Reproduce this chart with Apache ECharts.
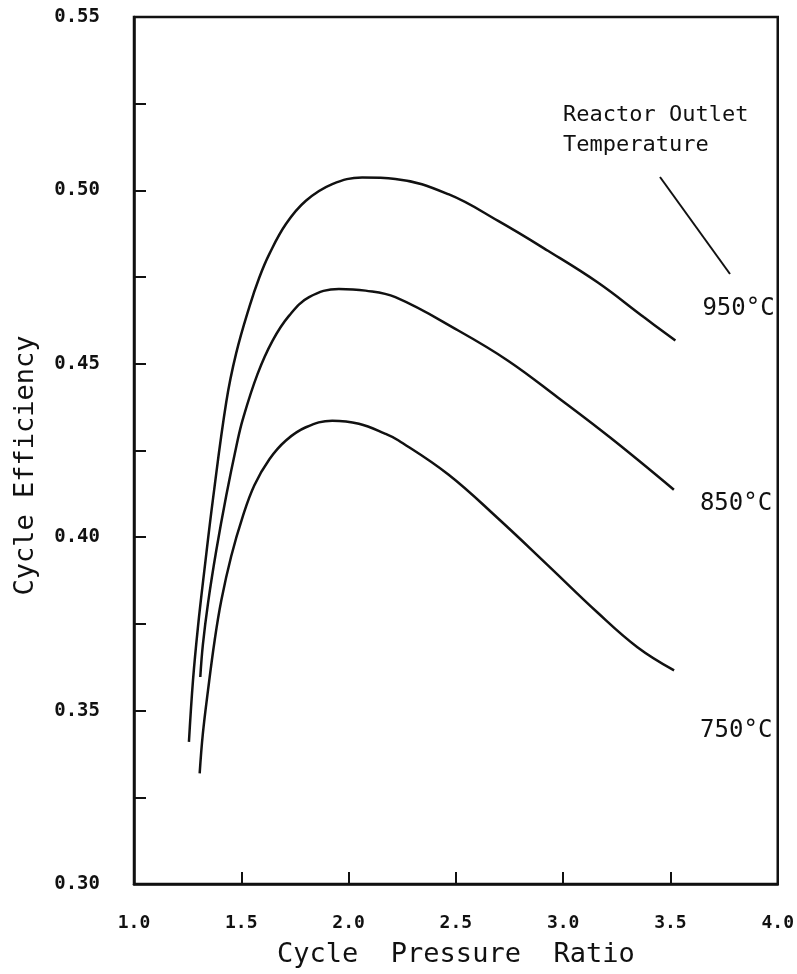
<!DOCTYPE html>
<html>
<head>
<meta charset="utf-8">
<script src="https://cdn.jsdelivr.net/npm/echarts@6/dist/echarts.min.js"></script>
<style>
html, body { margin: 0; padding: 0; background: #fff; }
#chart { width: 797px; height: 974px; }
</style>
</head>
<body>
<div id="chart"></div>
<script>
// curve data: x = cycle pressure ratio, y = cycle efficiency
let ratio950 = [1.256, 1.275, 1.298, 1.329, 1.368, 1.430, 1.476, 1.538, 1.584, 1.631, 1.708, 1.801, 1.924, 2.063, 2.218, 2.465, 2.697, 2.929, 3.160, 3.377, 3.523];
let eff950 = [0.3410, 0.3588, 0.3741, 0.3910, 0.4110, 0.4390, 0.4530, 0.4665, 0.4749, 0.4817, 0.4903, 0.4970, 0.5018, 0.5037, 0.5033, 0.4989, 0.4912, 0.4826, 0.4735, 0.4634, 0.4567];

let ratio850 = [1.309, 1.321, 1.345, 1.383, 1.430, 1.478, 1.507, 1.576, 1.646, 1.723, 1.816, 1.955, 2.079, 2.218, 2.511, 2.743, 2.975, 3.222, 3.516];
let eff850 = [0.3597, 0.3690, 0.3810, 0.3960, 0.4120, 0.4265, 0.4340, 0.4471, 0.4567, 0.4639, 0.4692, 0.4716, 0.4711, 0.4692, 0.4596, 0.4509, 0.4403, 0.4286, 0.4137];

let ratio750 = [1.306, 1.321, 1.345, 1.376, 1.407, 1.453, 1.507, 1.561, 1.631, 1.708, 1.801, 1.924, 2.048, 2.172, 2.233, 2.465, 2.697, 2.929, 3.160, 3.346, 3.517];
let eff750 = [0.3319, 0.3434, 0.3559, 0.3703, 0.3818, 0.3945, 0.4060, 0.4150, 0.4225, 0.4279, 0.4317, 0.4336, 0.4327, 0.4298, 0.4279, 0.4181, 0.4054, 0.3919, 0.3783, 0.3683, 0.3616];

let tempLabels = ['950°C', '850°C', '750°C'];
let xTicks = [1.0, 4.0, 0.5];      // min, max, step
let yTicks = [0.30, 0.55, 0.05];   // min, max, step

function pairs(xs, ys) {
	let out = [];
	for (let i = 0; i < xs.length; i++) {
		out.push([xs[i], ys[i]]);
	}
	return out;
}

let mono = 'DejaVu Sans Mono';
let ink = '#111';

let myChart = echarts.init(document.getElementById('chart'));

// offsets of the temperature labels from the end of each curve
let labelOffsets = [[19, -32], [18, 14], [18, 60]];
let curves = [pairs(ratio950, eff950), pairs(ratio850, eff850), pairs(ratio750, eff750)];

let series = curves.map(function (d, i) {
	return {
		name: tempLabels[i],
		type: 'line',
		data: d,
		smooth: 0.4,
		symbol: 'none',
		lineStyle: { color: ink, width: 2.5 },
		endLabel: {
			show: true,
			formatter: '{a}',
			offset: labelOffsets[i],
			fontFamily: mono,
			fontSize: 24,
			color: ink,
			align: 'left',
			verticalAlign: 'middle'
		}
	};
});

myChart.setOption({
	animation: false,
	backgroundColor: '#fff',
	grid: {
		left: 134,
		right: 16,
		top: 17,
		bottom: 90,
		show: true,
		borderColor: ink,
		borderWidth: 2.5
	},
	xAxis: {
		type: 'value',
		min: xTicks[0],
		max: xTicks[1],
		interval: xTicks[2],
		name: 'Cycle  Pressure  Ratio',
		nameLocation: 'middle',
		nameGap: 57,
		nameTextStyle: { fontFamily: mono, fontSize: 27, color: ink },
		axisLine: { lineStyle: { color: ink, width: 2.5 } },
		axisTick: { inside: true, length: 12, lineStyle: { color: ink, width: 2 } },
		axisLabel: {
			margin: 30,
			fontFamily: mono,
			fontSize: 18,
			fontWeight: 'bold',
			color: ink,
			formatter: function (v) { return v.toFixed(1); }
		},
		splitLine: { show: false }
	},
	yAxis: {
		type: 'value',
		min: yTicks[0],
		max: yTicks[1],
		interval: yTicks[2],
		name: 'Cycle Efficiency',
		nameLocation: 'middle',
		nameRotate: 90,
		nameGap: 95,
		nameTextStyle: { fontFamily: mono, fontSize: 27, color: ink, padding: [0, 30, 0, 0] },
		axisLine: { lineStyle: { color: ink, width: 2.5 } },
		axisTick: { inside: true, length: 12, lineStyle: { color: ink, width: 2 } },
		minorTick: { show: true, splitNumber: 2, length: 12, lineStyle: { color: ink, width: 2 } },
		axisLabel: {
			margin: 34,
			fontFamily: mono,
			fontSize: 19,
			fontWeight: 'bold',
			color: ink,
			formatter: function (v) { return v.toFixed(2); }
		},
		splitLine: { show: false }
	},
	graphic: [
		{
			type: 'text',
			x: 563, y: 115,
			style: { text: 'Reactor Outlet', fontFamily: mono, fontSize: 22, fill: ink, verticalAlign: 'middle' }
		},
		{
			type: 'text',
			x: 563, y: 145,
			style: { text: 'Temperature', fontFamily: mono, fontSize: 22, fill: ink, verticalAlign: 'middle' }
		},
		{
			type: 'line',
			shape: { x1: 660, y1: 177, x2: 730, y2: 274 },
			style: { stroke: ink, lineWidth: 2 }
		}
	],
	series: series
});
</script>
</body>
</html>
